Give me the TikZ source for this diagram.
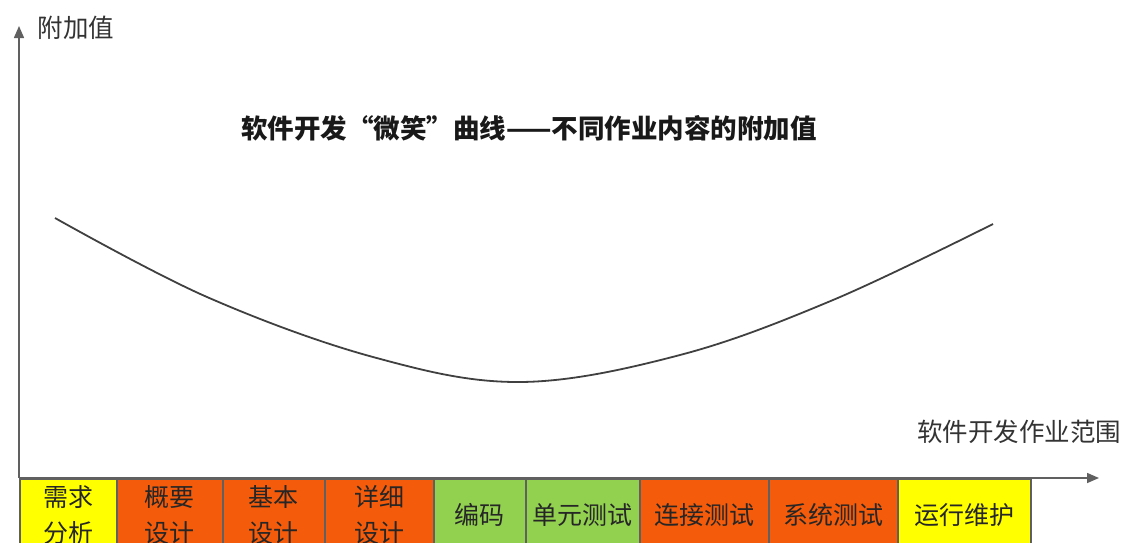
\documentclass[tikz,border=0pt]{standalone}
\usepackage{fontspec}
\setmainfont{Noto Sans CJK SC}
\usetikzlibrary{arrows.meta}
\definecolor{boxyellow}{HTML}{FFFF00}
\definecolor{boxorange}{HTML}{F45B0A}
\definecolor{boxgreen}{HTML}{92D050}
\definecolor{axisgray}{HTML}{606060}
\definecolor{labelgray}{HTML}{333333}
\begin{document}
\begin{tikzpicture}[x=1pt,y=-1pt,
  stagebox/.style={draw=axisgray, line width=1.5pt, anchor=north west, minimum height=72pt, inner sep=0pt, align=center, font=\fontsize{25}{36}\selectfont, text=black!85},
  axislabel/.style={font=\fontsize{25.5}{28}\selectfont, text=labelgray, inner sep=0pt},
  axisline/.style={draw=axisgray, line width=1.5pt, -{Triangle[length=12pt,width=10pt]}},
  smile/.style={draw=black!75, line width=1.8pt}]
\useasboundingbox (0,0) rectangle (1124,542);
\clip (0,0) rectangle (1124,542);
% stage boxes
\node[stagebox, fill=boxyellow, minimum width=97pt]  (s1) at (19,478)  {需求\\分析};
\node[stagebox, fill=boxorange, minimum width=106pt] (s2) at (116,478) {概要\\设计};
\node[stagebox, fill=boxorange, minimum width=102pt] (s3) at (222,478) {基本\\设计};
\node[stagebox, fill=boxorange, minimum width=109pt] (s4) at (324,478) {详细\\设计};
\node[stagebox, fill=boxgreen,  minimum width=92pt]  (s5) at (433,478) {编码};
\node[stagebox, fill=boxgreen,  minimum width=114pt] (s6) at (525,478) {单元测试};
\node[stagebox, fill=boxorange, minimum width=129pt] (s7) at (639,478) {连接测试};
\node[stagebox, fill=boxorange, minimum width=129pt] (s8) at (768,478) {系统测试};
\node[stagebox, fill=boxyellow, minimum width=133pt] (s9) at (897,478) {运行维护};
% axes
\coordinate (o) at (19,478);
\coordinate (ytip) at (19,26);
\coordinate (xtip) at (1099,478);
\draw[axisline] (o) -- (ytip);
\draw[axisline] (o) -- (xtip);
\node[axislabel] (ylab) at (76,28) {附加值};
\node[axislabel] (xlab) at (1019,432) {软件开发作业范围};
% title
\node[font=\fontsize{26.5}{30}\selectfont\bfseries, text=black!90, inner sep=0pt] (title) at (529,128) {软件开发“微笑”曲线——不同作业内容的附加值};
% smile curve
\draw[smile] plot[smooth, tension=0.6] coordinates {(55,218) (207,297) (373,357) (520,382) (680,355) (833,300) (993,224)};
\end{tikzpicture}
\end{document}
